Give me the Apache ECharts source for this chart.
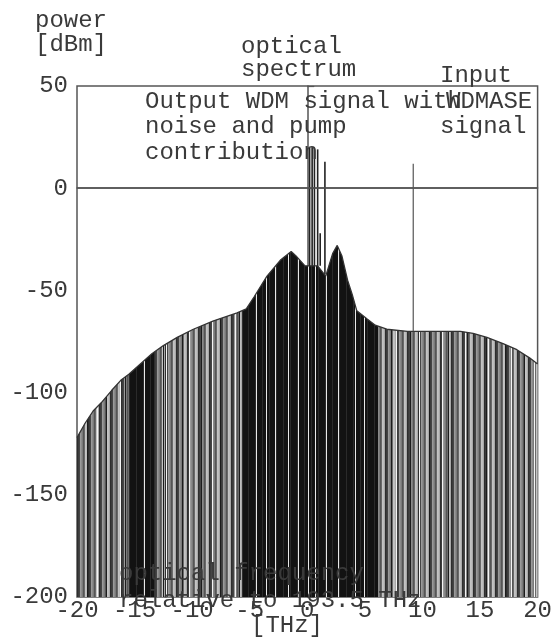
<!DOCTYPE html>
<html>
<head>
<meta charset="utf-8">
<script src="https://cdn.jsdelivr.net/npm/echarts@6/dist/echarts.min.js"></script>
<style>
html,body{margin:0;padding:0;background:#fff;}
#c{width:555px;height:637px;}
</style>
</head>
<body>
<div id="c"></div>
<script>
// ---- data ----
const envFreq  = [-20, -19.3, -18.6, -17.9, -17.0, -16.2, -15.5, -14.5, -13.5, -12.5, -11.3, -9.9, -8.2, -6.1, -5.3, -4.6, -3.5, -2.3, -1.4, -1.0, -0.2, 0.2, 0.9, 1.6, 2.2, 2.6, 3.0, 3.5, 3.9, 4.3, 5.2, 5.9, 6.9, 8.7, 11.3, 13.3, 14.4, 15.6, 17.0, 18.2, 19.3, 20];
const envPower = [-122, -115, -109, -105, -99, -94, -91, -86, -81, -77, -73, -69, -65, -61, -59, -53, -43, -35, -31, -33, -38, -38, -38, -43, -32, -28, -33, -45, -52, -60, -64, -67, -69, -70, -70, -70, -71, -73, -76, -79, -83, -86];
const channelFreq = [0.2, 0.42, 0.62, 0.9, 1.12, 1.53];
const channelPeak = [20, 20, 19, 19, -22, 13];
const channelBase = [-38, -38, -38, -38, -38, -42];
const inputFreq = [9.2];
const inputPeak = [12];
const inputBase = [-70];
const xTicks = [-20, -15, -10, -5, 0, 5, 10, 15, 20];
const yTicks = [-200, -150, -100, -50, 0, 50];

// ---- styling ----
const FONT = '"Liberation Mono", "Courier New", monospace';
const TXT = '#3a3a3a';
const darkBands = [[-15.5, -13.3], [-5.6, 6.1]];
const whiteInDark = [-4.44, -3.58, -2.8, -1.68, -0.82, 0.04, 0.65, 1.59, 2.63, 4.18, 4.96, -14.2];

const chart = echarts.init(document.getElementById('c'), null, {renderer: 'canvas'});

function segData(f, top, base) {
  return f.map((v, i) => [v, top[i], base[i]]);
}

function vlineItem(color, width) {
  return function (params, api) {
    const a = api.coord([api.value(0), api.value(2)]);
    const b = api.coord([api.value(0), api.value(1)]);
    return {type: 'line', shape: {x1: a[0], y1: a[1], x2: b[0], y2: b[1]},
            style: {stroke: color, lineWidth: width}};
  };
}

function txt(text, x, y, align, size) {
  return {type: 'text', x: x, y: y, z: 100,
    style: {text: text, font: (size || 24) + 'px ' + FONT, fill: TXT,
            textAlign: align || 'left', textVerticalAlign: 'middle',
            align: align || 'left', verticalAlign: 'middle'}};
}

const option = {
  animation: false,
  backgroundColor: '#fff',
  grid: {left: 77, right: 13, top: 86, bottom: 40, show: true, borderColor: '#555', borderWidth: 1.5},
  xAxis: {
    type: 'value', min: xTicks[0], max: xTicks[xTicks.length - 1], interval: 5,
    axisLine: {show: true, lineStyle: {color: '#555', width: 1.5}},
    axisTick: {show: false}, splitLine: {show: false},
    axisLabel: {margin: 2, fontFamily: FONT, fontSize: 24, color: TXT}
  },
  yAxis: {
    type: 'value', min: yTicks[0], max: yTicks[yTicks.length - 1], interval: 50,
    axisLine: {show: true, lineStyle: {color: '#555', width: 1.5}},
    axisTick: {show: true, inside: true, length: 7, lineStyle: {color: '#555', width: 1.2}},
    splitLine: {show: false},
    axisLabel: {margin: 9, fontFamily: FONT, fontSize: 24, color: TXT}
  },
  series: [
    {
      id: 'env', type: 'line', data: envFreq.map((f, i) => [f, envPower[i]]),
      symbol: 'none', smooth: false, z: 2,
      lineStyle: {color: '#333', width: 1.3},
      areaStyle: {origin: 'start', color: '#777', opacity: 1},
      markLine: {
        silent: true, symbol: 'none', label: {show: false},
        lineStyle: {color: '#555', width: 1.5, type: 'solid'},
        data: [{yAxis: 0}]
      }
    },
    {
      type: 'custom', z: 3, data: segData(channelFreq, channelPeak, channelBase),
      encode: {x: 0, y: [1, 2]}, renderItem: vlineItem('#222', 1.6)
    },
    {
      type: 'custom', z: 3, data: segData(inputFreq, inputPeak, inputBase),
      encode: {x: 0, y: [1, 2]}, renderItem: vlineItem('#555', 1.2)
    }
  ],
  graphic: [
    txt('power', 71, 20.5, 'center'),
    txt('[dBm]', 71, 44.5, 'center'),
    txt('optical', 241, 47, 'left'),
    txt('spectrum', 241, 70, 'left'),
    txt('Output WDM signal with', 145, 101.5, 'left'),
    txt('noise and pump', 145, 126.5, 'left'),
    txt('contribution', 145, 153, 'left'),
    txt('Input', 440, 75.5, 'left'),
    txt('WDM', 446, 102, 'left'),
    txt('ASE', 489, 102, 'left'),
    txt('signal', 440, 126.5, 'left'),
    txt('optical frequency', 119, 573.5, 'left'),
    txt('relative to 193.5 THz', 119, 600.5, 'left'),
    txt('[THz]', 287, 625.5, 'center')
  ]
};
chart.setOption(option);

// stripe pattern for the filled spectrum (pure styling)
function makePattern() {
  const W = 555, H = 2;
  const cv = document.createElement('canvas');
  cv.width = W; cv.height = H;
  const ctx = cv.getContext('2d');
  const grayCycle = ['#2e2e2e', '#9a9a9a', '#555555', '#bdbdbd', '#3c3c3c', '#8a8a8a', '#6a6a6a', '#a8a8a8', '#454545', '#7a7a7a', '#c4c4c4'];
  const whitePx = whiteInDark.map(v => Math.round(chart.convertToPixel({xAxisIndex: 0}, v)));
  for (let px = 0; px < W; px++) {
    const v = chart.convertFromPixel({xAxisIndex: 0}, px + 0.5);
    const dark = darkBands.some(b => v >= b[0] && v <= b[1]);
    let col;
    if (dark) {
      col = (px % 7 === 3) ? '#2a2a2a' : '#121212';
      if (whitePx.indexOf(px) >= 0) col = '#e8e8e8';
    } else {
      col = grayCycle[(px * 4) % grayCycle.length];
      if (px % 23 === 5) col = '#f4f4f4';
      if (px % 19 === 11) col = '#1c1c1c';
    }
    ctx.fillStyle = col;
    ctx.fillRect(px, 0, 1, H);
  }
  return cv;
}
chart.setOption({series: [{id: 'env', areaStyle: {origin: 'start', color: {image: makePattern(), repeat: 'repeat'}, opacity: 1}}]});
</script>
</body>
</html>
